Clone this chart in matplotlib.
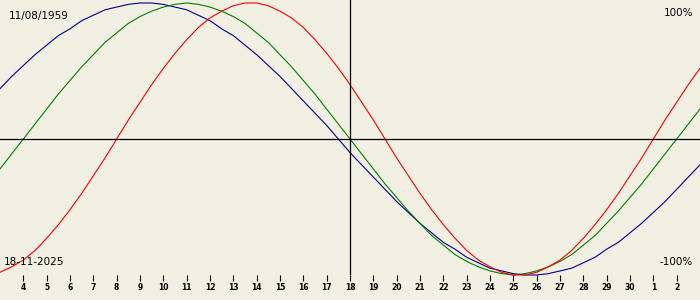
import matplotlib
matplotlib.use("Agg")
import numpy as np
import matplotlib.pyplot as plt

# half-day grid: 3 Nov 2025 .. 3 Dec 2025 (day 31 = 1 Dec)
days = np.arange(3, 33.5, 0.5)
tick_days = list(range(4, 33))
tick_labels = [str(d) for d in range(4, 31)] + ["1", "2"]

# biorhythm values in percent
physical = [-98, -94, -89, -82, -73, -63, -52, -40, -27, -14,
            0, 14, 27, 40, 52, 63, 73, 82, 89, 94,
            98, 100, 100, 98, 94, 89, 82, 73, 63, 52,
            40, 27, 14, 0, -14, -27, -40, -52, -63, -73,
            -82, -89, -94, -98, -100, -100, -98, -94, -89, -82,
            -73, -63, -52, -40, -27, -14, 0, 14, 27, 40, 52]
emotional = [-22, -11, 0, 11, 22, 33, 43, 53, 62, 71, 78, 85, 90, 94, 97, 99, 100,
             99, 97, 94, 90, 85, 78, 71, 62, 53, 43, 33, 22, 11, 0,
             -11, -22, -33, -43, -53, -62, -71, -78, -85, -90, -94, -97, -99, -100,
             -99, -97, -94, -90, -85, -78, -71, -62, -53, -43, -33, -22, -11, 0, 11, 22]
intellectual = [37, 46, 54, 62, 69, 76, 81, 87, 91, 95, 97, 99, 100, 100, 99, 97,
                95, 91, 87, 81, 76, 69, 62, 54, 46, 37, 28, 19, 10, 0,
                -10, -19, -28, -37, -46, -54, -62, -69, -76, -81, -87, -91, -95, -97,
                -99, -100, -100, -99, -97, -95, -91, -87, -81, -76, -69, -62, -54,
                -46, -37, -28, -19]

birth = "11/08/1959"
today = "18-11-2025"
today_day = 18

bg = "#f2efe3"

fig = plt.figure(figsize=(7, 3), dpi=100, facecolor=bg)
ax = fig.add_axes([0, 25 / 300, 1, 275 / 300], facecolor=bg)

ax.plot(days, intellectual, color="#000090", lw=0.8, clip_on=False)
ax.plot(days, emotional, color="#008000", lw=0.8, clip_on=False)
ax.plot(days, physical, color="#ff0000", lw=0.8, clip_on=False)

ax.axhline(0, color="black", lw=0.9)
ax.axvline(today_day, color="black", lw=0.9)

ax.set_xlim(3, 33)
ax.set_ylim(-100, 102.2)

for s in ax.spines.values():
    s.set_visible(False)
ax.set_yticks([])
ax.set_xticks(tick_days)
ax.set_xticklabels(tick_labels, fontweight="bold")
ax.tick_params(axis="x", direction="out", length=4.5, width=0.8, pad=1.5,
               labelsize=5.5, colors="black")

ax.text(0.012, 0.94, birth, transform=ax.transAxes, fontsize=7.5, va="center")
ax.text(0.006, 0.047, today, transform=ax.transAxes, fontsize=7.5, va="center")
ax.text(0.99, 0.953, "100%", transform=ax.transAxes, fontsize=7.5, va="center", ha="right")
ax.text(0.99, 0.047, "-100%", transform=ax.transAxes, fontsize=7.5, va="center", ha="right")

fig.savefig("out.png", dpi=100, facecolor=bg)
